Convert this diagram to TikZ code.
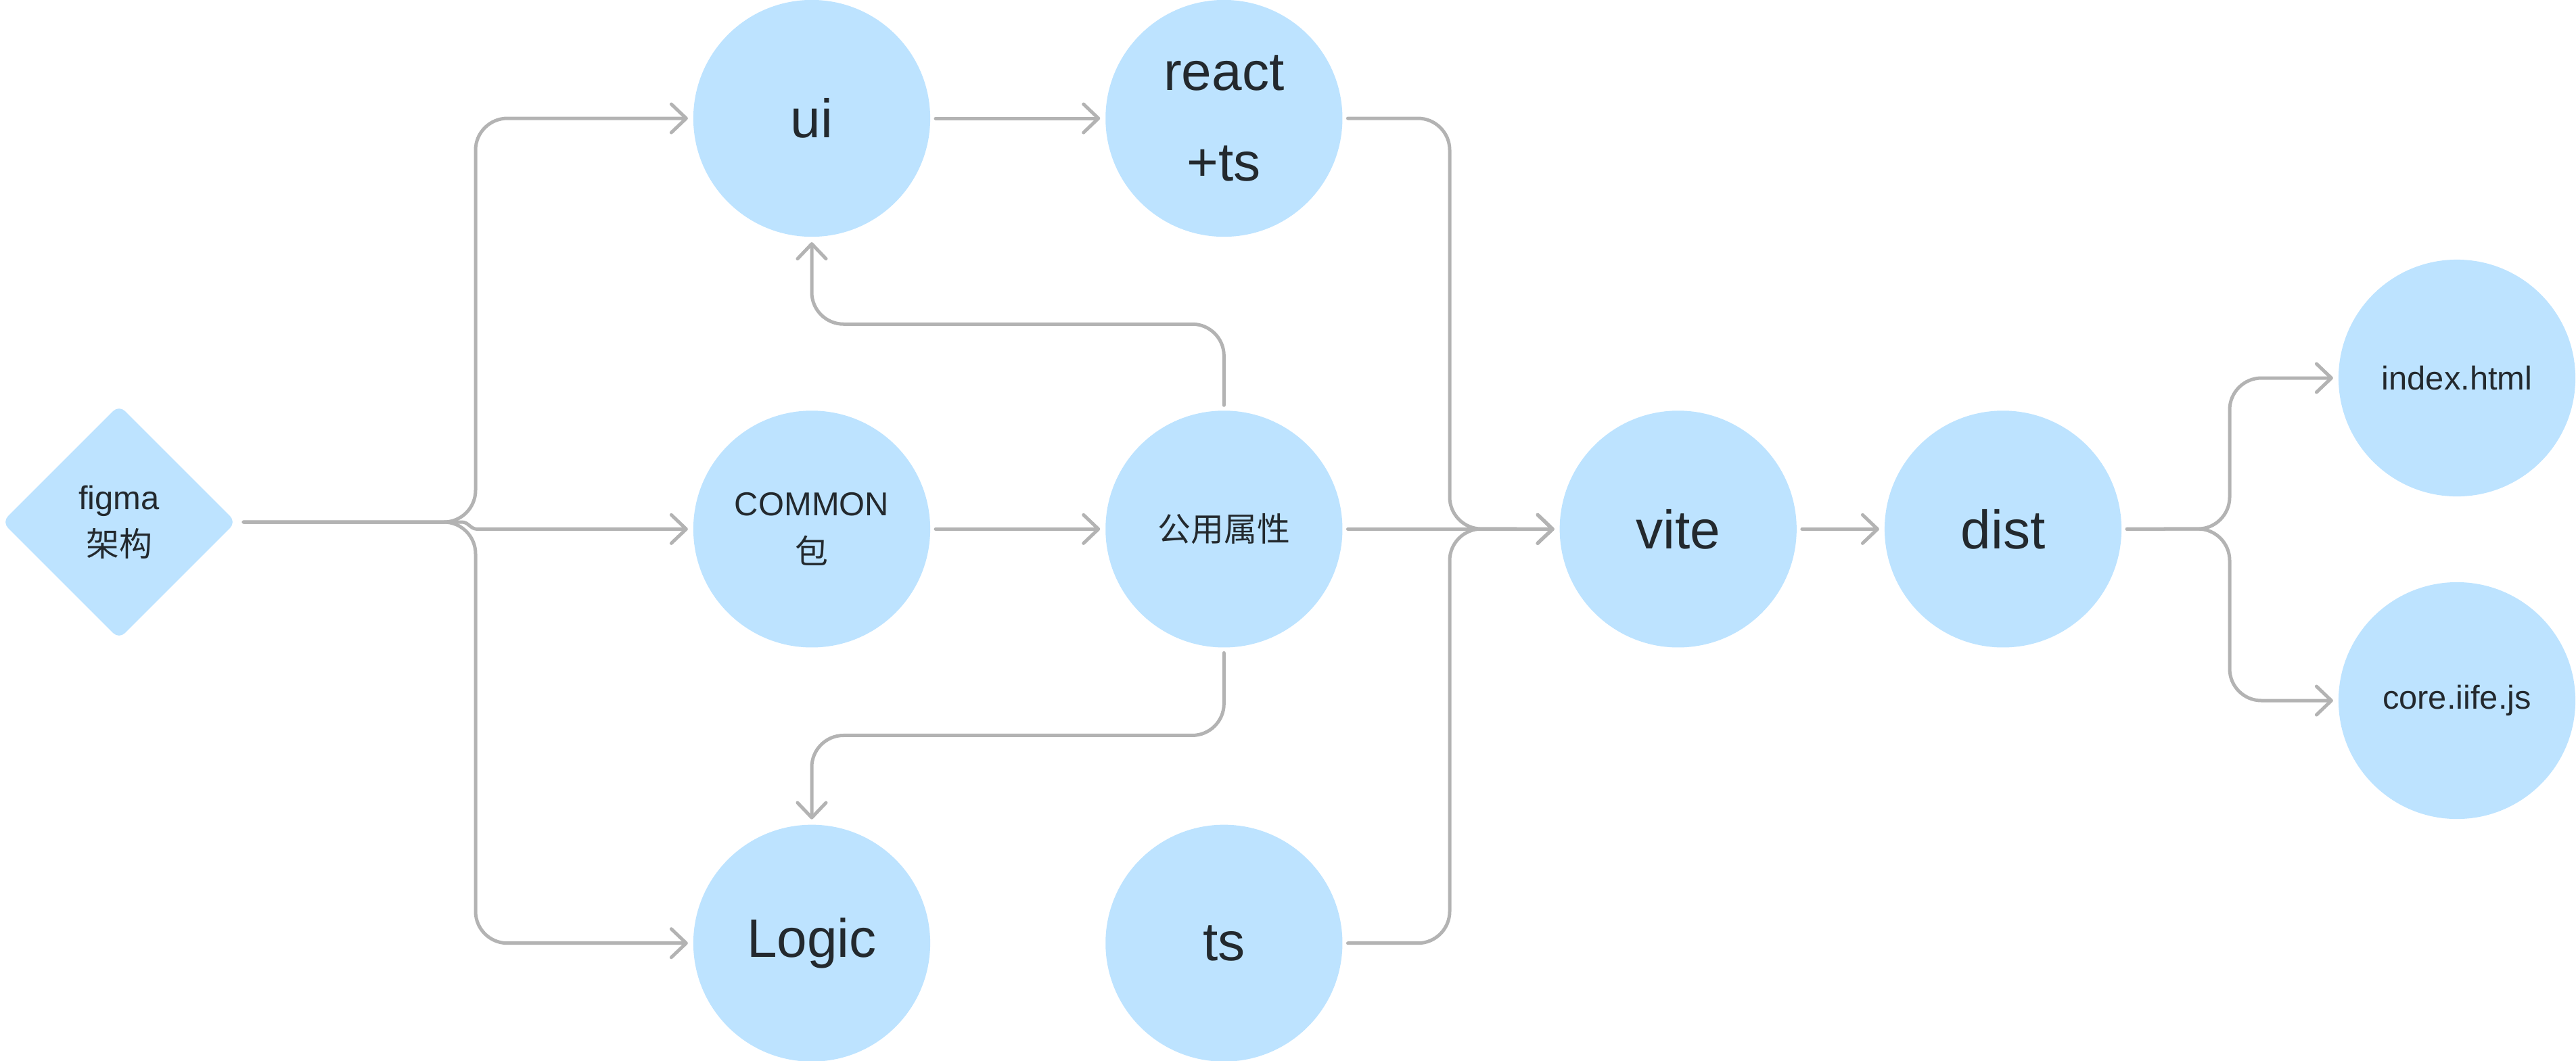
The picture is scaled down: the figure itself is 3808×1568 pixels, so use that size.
\documentclass[tikz,border=0pt]{standalone}
\usepackage{fontspec}
\setmainfont{Liberation Sans}
\newfontfamily\cjk{Noto Sans CJK SC}
\usetikzlibrary{arrows.meta,positioning,shapes.geometric}
\definecolor{bubbleblue}{HTML}{BDE3FF}
\definecolor{wire}{HTML}{B3B3B3}
\definecolor{ink}{HTML}{23292E}

\begin{document}
\begin{tikzpicture}[x=0.01cm,y=-0.01cm,on grid,
   every node/.style={text=ink},
   big/.style={circle,fill=bubbleblue,minimum size=3.5cm,inner sep=0pt,outer sep=0.08cm,
      align=center,font=\fontsize{22.8pt}{38pt}\selectfont},
   small/.style={big,font=\fontsize{13.9pt}{20pt}\selectfont},
   decision/.style={diamond,fill=bubbleblue,minimum width=3.52cm,minimum height=3.52cm,
      inner sep=0pt,outer sep=0.08cm,rounded corners=0.12cm,align=center,
      font=\fontsize{13.9pt}{19.5pt}\selectfont},
   link/.style={color=wire,draw,line width=0.05cm,line cap=round,rounded corners=0.47cm,
      -{Straight Barb[length=0.22cm,width=0.42cm,round]}}]
   \useasboundingbox (0,0) rectangle (3808,1568);

   \node[decision] (figma) at (176,772) {figma\\{\cjk 架构}};
   \node[big] (ui) at (1200,175) {ui};
   \node[big] (react) [right=6.09cm of ui] {react\\+ts};
   \node[small] (common) [below=6.07cm of ui] {COMMON\\{\cjk 包}};
   \node[small] (shared) [right=6.09cm of common] {\cjk 公用属性};
   \node[big] (logic) [below=6.12cm of common] {Logic};
   \node[big] (ts) [right=6.09cm of logic] {ts};
   \node[big] (vite) [right=6.71cm of shared] {vite};
   \node[big] (dist) [right=4.8cm of vite] {dist};
   \node[small] (html) at (3632,559) {index.html};
   \node[small] (iife) at (3632,1036) {core.iife.js};

   % bend points
   \coordinate (fork) at (703,772);
   \coordinate (merge) at (2143,782);
   \coordinate (split) at (3296,782);

   \path[link]
   (ui) edge (react)
   (common) edge (shared)
   (shared) edge (vite)
   (vite) edge (dist);

   \draw[link] (figma.east) -- (fork) |- (ui.west);
   \draw[link,sharp corners] (figma.east) -- ([xshift=-0.2cm]fork)
      to[out=0,in=180] ([xshift=0.02cm]fork |- common.west) -- (common.west);
   \draw[link] (figma.east) -- (fork) |- (logic.west);
   \draw[link] (shared.north) -- ++(0,-120) -| (ui.south);
   \draw[link] (shared.south) -- ++(0,122) -| (logic.north);
   \draw[link] (react.east) -| (merge) -- (vite.west);
   \draw[link] (ts.east) -| (merge) -- (vite.west);
   \draw[link] (dist.east) -- (split) |- (html.west);
   \draw[link] (dist.east) -- (split) |- (iife.west);
\end{tikzpicture}
\end{document}
